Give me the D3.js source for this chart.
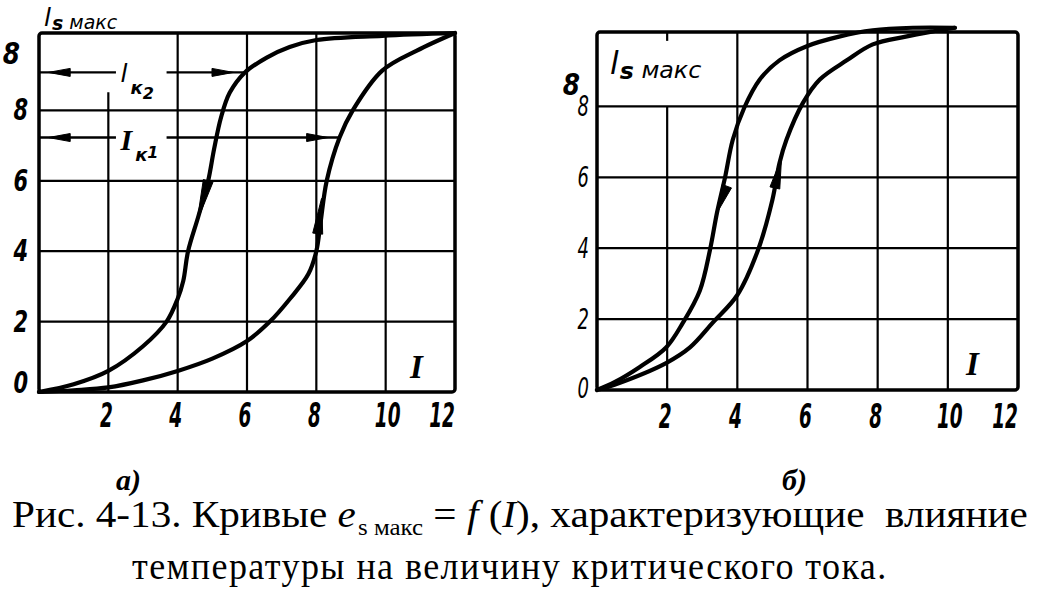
<!DOCTYPE html>
<html><head><meta charset="utf-8">
<script src="https://cdn.jsdelivr.net/npm/d3@7/dist/d3.min.js"></script>
<style>body{margin:0;background:#fff} svg{display:block} text{white-space:pre}</style>
</head><body>
<svg id="c" width="1045" height="595"></svg>
<script>
// ---------- data ----------
const xTickValues = [2, 4, 6, 8, 10, 12];
const yTickValues = [0, 2, 4, 6, 8];
const gridXValues = [2, 4, 6, 8, 10];
const gridYValues = [2, 4, 6, 8];
const topExtraLabel = "8";
const yAxisTitle = ["l", "s", " макс"];
const xAxisTitle = "I";
const panelLetters = ["а)", "б)"];

// panel а): I (x) vs e_s макс (y)
const aCurveDown = [[0,0],[1,0.22],[2,0.6],[3,1.3],[3.68,2.0],[4,2.65],[4.16,3.15],[4.3,4.0],[4.6,5.0],[4.88,6.0],[5.05,6.9],[5.25,7.8],[5.5,8.5],[5.94,9.08],[6.57,9.5],[7.23,9.8],[8.0,10.0],[9.9,10.12],[12,10.2]];
const aCurveUp   = [[0,0],[1,0.05],[2,0.13],[3,0.33],[4,0.6],[5,0.95],[6,1.45],[6.66,2.0],[7.24,2.65],[7.77,3.35],[8.0,4.0],[8.12,4.8],[8.3,6.0],[8.67,7.23],[9.05,8.0],[9.9,9.13],[10.9,9.7],[12,10.2]];
// panel б)
const bCurveDown = [[0,0],[0.5,0.22],[1.22,0.65],[1.97,1.2],[2.45,1.9],[2.93,2.8],[3.22,3.95],[3.42,5.0],[3.65,6.0],[3.87,7.06],[4.2,7.97],[4.64,8.76],[5.2,9.3],[5.98,9.7],[6.9,9.97],[7.86,10.15],[9.0,10.22],[10.2,10.22]];
const bCurveUp   = [[0,0],[0.5,0.15],[1.97,0.76],[2.65,1.2],[3.3,1.9],[4.0,2.68],[4.59,3.95],[5.0,5.37],[5.2,6.4],[5.4,7.06],[5.87,8.1],[6.35,8.76],[7.12,9.3],[7.86,9.75],[8.8,9.97],[9.6,10.12],[10.2,10.22]];

// direction arrows on curves: [tail I, tail v, tip I, tip v]
const aArrows = [[4.88,6.0,4.56,4.85],[8.04,4.5,8.15,5.5]];
const bArrows = [[3.7,5.75,3.42,5.0],[5.07,5.7,5.26,6.55]];

// critical-current markers in panel а): levels (y) and currents (x)
const criticalLevels = [9.08, 7.23];
const criticalCurrents = [5.94, 8.67];
const criticalNames = [["l","к","2"],["I","к","1"]];

const captionLine1 = ["Рис. 4-13. Кривые ", "e", "s макс", " = ", "f", " (", "I", "), характеризующие  влияние"];
const captionLine2 = "температуры на величину критического тока.";

// ---------- drawing ----------
const svg = d3.select("#c");
svg.append("rect").attr("width",1045).attr("height",595).attr("fill","#fff");

const handFont = "'DejaVu Sans', sans-serif";

function arrowHead(g, tip, tail, w) {
  const dx = tip[0]-tail[0], dy = tip[1]-tail[1];
  const L = Math.hypot(dx,dy);
  const px = -dy/L*w/2, py = dx/L*w/2;
  g.append("path")
    .attr("d", `M${tip[0]},${tip[1]}L${tail[0]+px},${tail[1]+py}L${tail[0]-px},${tail[1]-py}Z`)
    .attr("fill","#000").attr("stroke","#000").attr("stroke-width",1);
}

function panel(cfg) {
  const g = svg.append("g");
  const x = d3.scaleLinear().domain([0,12]).range(cfg.xr);
  const y = d3.scaleLinear().domain([0,cfg.ymax]).range(cfg.yr);

  // vertical grid
  g.selectAll(".vg").data(gridXValues).join("line")
    .attr("x1",d=>x(d)).attr("x2",d=>x(d))
    .attr("y1",y(0)).attr("y2",d=> (cfg.vTop[d]!==undefined ? y(cfg.vTop[d]) : y(cfg.ymax)))
    .attr("stroke","#000").attr("stroke-width",2.2);
  if (cfg.topStub) {
    g.append("line").attr("x1",x(cfg.topStub[0])).attr("x2",x(cfg.topStub[0]))
      .attr("y1",y(cfg.ymax)).attr("y2",y(cfg.topStub[1]))
      .attr("stroke","#000").attr("stroke-width",2.2);
  }
  // horizontal grid
  g.selectAll(".hg").data(gridYValues).join("line")
    .attr("x1",x(0)).attr("x2",x(12))
    .attr("y1",d=>y(d)).attr("y2",d=>y(d))
    .attr("stroke","#000").attr("stroke-width",2.2);
  // frame
  g.append("rect").attr("x",x(0)).attr("y",y(cfg.ymax))
    .attr("width",x(12)-x(0)).attr("height",y(0)-y(cfg.ymax))
    .attr("rx",3).attr("fill","none").attr("stroke","#000").attr("stroke-width",3.5);

  // curves
  const line = d3.line().x(d=>x(d[0])).y(d=>y(d[1])).curve(d3.curveCatmullRom.alpha(0.5));
  cfg.curves.forEach(c => {
    g.append("path").attr("d",line(c)).attr("fill","none")
      .attr("stroke","#000").attr("stroke-width",4.2)
      .attr("stroke-linejoin","round").attr("stroke-linecap","round");
  });
  cfg.arrows.forEach(a => arrowHead(g,[x(a[2]),y(a[3])],[x(a[0]),y(a[1])],10));

  // x tick labels
  g.selectAll(".xt").data(xTickValues).join("text")
    .attr("transform",d=>`translate(${x(d)+(d===12?-13:(d===10?2:-2))},${cfg.xLabelY}) scale(0.56,1)`)
    .attr("text-anchor","middle")
    .attr("font-family",handFont).attr("font-style","italic").attr("font-weight","bold")
    .attr("font-size",33).text(d=>d);
  // y tick labels
  g.selectAll(".yt").data(yTickValues).join("text")
    .attr("transform",d=>`translate(${cfg.yLabelX},${y(d)+(d===0?cfg.zeroShift:10)}) scale(${cfg.ySx},1)`)
    .attr("text-anchor","end")
    .attr("font-family",handFont).attr("font-style","italic").attr("font-weight",cfg.yWeight)
    .attr("font-size",cfg.ySize).text(d=>d);
  // extra bold label at top
  g.append("text")
    .attr("transform",`translate(${cfg.topLabel[0]},${cfg.topLabel[1]}) scale(0.8,1)`)
    .attr("text-anchor","end")
    .attr("font-family",handFont).attr("font-style","italic").attr("font-weight","bold")
    .attr("font-size",31).text(topExtraLabel);

  // y axis title
  const k = cfg.titleScale;
  const t = g.append("text").attr("x",cfg.title[0]).attr("y",cfg.title[1])
    .attr("font-family",handFont).attr("font-style","italic").attr("font-weight","bold");
  t.append("tspan").attr("font-size",25*k).attr("font-weight","normal").text(yAxisTitle[0]);
  t.append("tspan").attr("font-size",19*k).attr("dy",4*k).attr("dx",1).text(yAxisTitle[1]);
  t.append("tspan").attr("font-size",19*k).attr("dy",-1).attr("font-weight","normal").text(yAxisTitle[2]);

  // x axis name
  g.append("text").attr("x",cfg.iLabel[0]).attr("y",cfg.iLabel[1])
    .attr("font-family","'Liberation Serif', serif").attr("font-style","italic").attr("font-weight","bold")
    .attr("font-size",33).text(xAxisTitle);

  // panel letter
  g.append("text").attr("x",cfg.letter[0]).attr("y",cfg.letter[1])
    .attr("font-family","'Liberation Serif', serif").attr("font-style","italic").attr("font-weight","bold")
    .attr("font-size",30).text(cfg.letterText);

  return {g,x,y};
}

const A = panel({
  xr:[39,455], yr:[392,33], ymax:10.2,
  vTop:{2:8.52}, topStub:null,
  curves:[aCurveDown,aCurveUp], arrows:aArrows,
  xLabelY:427, yLabelX:28, ySx:0.7, ySize:30, yWeight:"bold", zeroShift:1,
  topLabel:[20,64], title:[44,26], titleScale:1,
  iLabel:[410,378], letter:[116,490], letterText:panelLetters[0]
});
const B = panel({
  xr:[597,1018], yr:[390,32], ymax:10.1,
  vTop:{2:8}, topStub:[2,9.85],
  curves:[bCurveDown,bCurveUp], arrows:bArrows,
  xLabelY:428, yLabelX:589, ySx:0.62, ySize:29, yWeight:"normal", zeroShift:8,
  topLabel:[580,95], title:[610,74], titleScale:1.25,
  iLabel:[966,375], letter:[782,490], letterText:panelLetters[1]
});

// critical-current markers (panel а)
{
  const {g,x,y} = A;
  criticalLevels.forEach((lv,i) => {
    const yy = y(lv);
    g.append("line").attr("x1",x(0)).attr("x2",x(2.22)).attr("y1",yy).attr("y2",yy)
      .attr("stroke","#000").attr("stroke-width",2.4);
    g.append("line").attr("x1",x(3.68)).attr("x2",x(criticalCurrents[i])).attr("y1",yy).attr("y2",yy)
      .attr("stroke","#000").attr("stroke-width",2.4);
    arrowHead(g,[x(0.27),yy],[x(0.9),yy],8);
    arrowHead(g,[x(criticalCurrents[i]-0.33),yy],[x(criticalCurrents[i]-0.95),yy],8);
    const nm = criticalNames[i];
    const t = g.append("text").attr("x",x(2.35)).attr("y",yy+(i===0?10:12))
      .attr("font-family", i===0 ? handFont : "'Liberation Serif', serif")
      .attr("font-style","italic").attr("font-weight","bold");
    t.append("tspan").attr("font-size", i===0?25:30).attr("font-weight", i===0?"normal":"bold").text(nm[0]);
    t.append("tspan").attr("font-family",handFont).attr("font-size",18).attr("dy",i===0?12:11).attr("dx",3).text(nm[1]);
    t.append("tspan").attr("font-family",handFont).attr("font-size",16).attr("dy",i===0?5:-3).text(nm[2]);
  });
}

// caption
function fitText(sel, x0, x1) {
  const bb = sel.node().getBBox();
  const sx = (x1-x0)/bb.width;
  sel.attr("transform",`translate(${x0 - bb.x*sx},0) scale(${sx},1)`);
}
const serif = "'Liberation Serif', 'DejaVu Serif', serif";
const c1 = svg.append("text").attr("x",0).attr("y",527).attr("font-family",serif).attr("font-size",38);
c1.append("tspan").text(captionLine1[0]);
c1.append("tspan").attr("font-style","italic").text(captionLine1[1]);
c1.append("tspan").attr("font-size",23).attr("dy",8).attr("dx",2).text(captionLine1[2]);
c1.append("tspan").attr("dy",-8).text(captionLine1[3]);
c1.append("tspan").attr("font-style","italic").text(captionLine1[4]);
c1.append("tspan").text(captionLine1[5]);
c1.append("tspan").attr("font-style","italic").text(captionLine1[6]);
c1.append("tspan").text(captionLine1[7]);
fitText(c1, 12, 1028);

const c2 = svg.append("text").attr("x",0).attr("y",579).attr("font-family",serif).attr("font-size",38)
  .attr("letter-spacing",1.5).text(captionLine2);
fitText(c2, 132, 888);
</script>
</body></html>
